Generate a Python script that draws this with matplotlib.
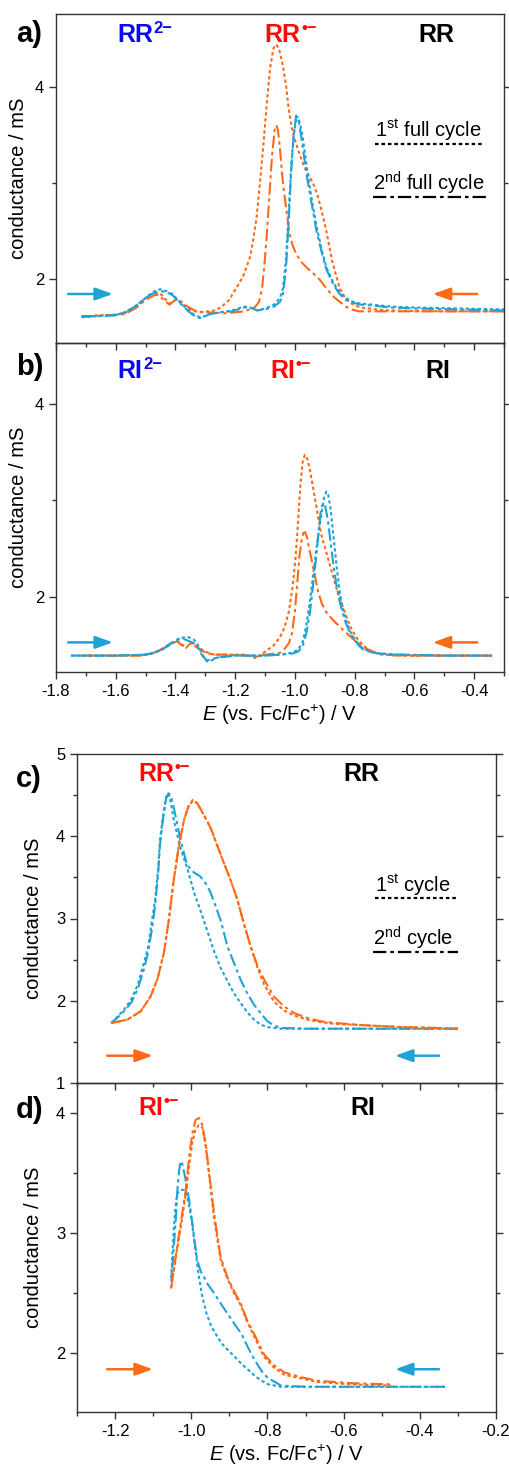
import matplotlib
matplotlib.use("Agg")
import matplotlib.pyplot as plt
from matplotlib.ticker import MultipleLocator

plt.rcParams['font.family'] = ['Liberation Sans', 'DejaVu Sans']
plt.rcParams['mathtext.fontset'] = 'custom'
plt.rcParams['mathtext.rm'] = 'Liberation Sans'
plt.rcParams['mathtext.it'] = 'Liberation Sans:italic'
plt.rcParams['mathtext.bf'] = 'Liberation Sans:bold'

CYAN = '#1fa3d5'
ORANGE = '#ff6a17'
BLUE = '#0a0af0'
RED = '#ff0a0a'

# ---- panel a (RR, full cycles) ----
a_or_dot_x = [-0.30, -0.50, -0.70, -0.78, -0.81, -0.83, -0.85, -0.875, -0.895, -0.91, -0.925, -0.94, -0.958,
              -0.973, -0.99, -1.007, -1.02, -1.03, -1.042, -1.052, -1.06, -1.066, -1.072, -1.083, -1.095, -1.105,
              -1.117, -1.128, -1.14, -1.15, -1.17, -1.187, -1.205, -1.22, -1.245, -1.265, -1.29, -1.32, -1.345,
              -1.365, -1.385, -1.398, -1.41, -1.42, -1.432, -1.445, -1.46, -1.48, -1.50, -1.52, -1.545, -1.57,
              -1.62, -1.66, -1.72]
a_or_dot_y = [1.66, 1.66, 1.67, 1.70, 1.74, 1.79, 1.90, 2.18, 2.50, 2.70, 2.88, 3.00, 3.10, 3.20, 3.35, 3.52,
              3.75, 4.02, 4.25, 4.38, 4.43, 4.44, 4.40, 4.20, 3.80, 3.42, 3.00, 2.65, 2.40, 2.23, 2.05, 1.95, 1.86,
              1.78, 1.71, 1.67, 1.66, 1.65, 1.67, 1.71, 1.76, 1.78, 1.76, 1.74, 1.78, 1.83, 1.85, 1.84, 1.80, 1.74,
              1.68, 1.64, 1.62, 1.62, 1.60]
a_or_dd_x = [-0.30, -0.50, -0.70, -0.786, -0.81, -0.83, -0.85, -0.87, -0.895, -0.917, -0.94, -0.962, -0.98,
             -0.996, -1.008, -1.018, -1.028, -1.04, -1.05, -1.057, -1.062, -1.068, -1.077, -1.086, -1.094, -1.102,
             -1.11, -1.12, -1.135, -1.17, -1.23, -1.30, -1.33, -1.36, -1.385, -1.40, -1.42, -1.44, -1.455, -1.47,
             -1.50, -1.53, -1.57, -1.62, -1.72]
a_or_dd_y = [1.66, 1.66, 1.66, 1.66, 1.68, 1.71, 1.76, 1.81, 1.90, 1.99, 2.06, 2.12, 2.18, 2.26, 2.35, 2.47,
             2.70, 2.99, 3.35, 3.55, 3.60, 3.55, 3.27, 2.85, 2.47, 2.15, 1.90, 1.76, 1.70, 1.66, 1.64, 1.65, 1.66,
             1.71, 1.77, 1.78, 1.73, 1.78, 1.83, 1.83, 1.78, 1.70, 1.63, 1.62, 1.60]
a_cy_x = [-1.715, -1.66, -1.60, -1.57, -1.54, -1.52, -1.50, -1.48, -1.465, -1.45, -1.43, -1.41, -1.398, -1.38,
          -1.36, -1.34, -1.32, -1.30, -1.287, -1.25, -1.21, -1.19, -1.17, -1.15, -1.127, -1.10, -1.07, -1.05,
          -1.04, -1.03, -1.02, -1.012, -1.004, -0.996, -0.99, -0.985, -0.975, -0.962, -0.945, -0.928, -0.91,
          -0.895, -0.87, -0.85, -0.83, -0.806, -0.78, -0.74, -0.68, -0.595, -0.45, -0.30]
a_cy_dot_y = [1.60, 1.61, 1.62, 1.65, 1.70, 1.75, 1.80, 1.85, 1.88, 1.89, 1.87, 1.84, 1.80, 1.74, 1.68, 1.63,
              1.60, 1.61, 1.63, 1.65, 1.67, 1.69, 1.71, 1.70, 1.67, 1.69, 1.73, 1.80, 1.90, 2.20, 2.75, 3.20,
              3.50, 3.65, 3.67, 3.64, 3.50, 3.20, 2.85, 2.55, 2.30, 2.12, 1.95, 1.86, 1.80, 1.76, 1.74, 1.73,
              1.71, 1.70, 1.69, 1.68]
a_cy_dd_y = [1.61, 1.61, 1.62, 1.65, 1.70, 1.75, 1.80, 1.84, 1.86, 1.87, 1.86, 1.83, 1.79, 1.73, 1.67, 1.62,
             1.59, 1.61, 1.63, 1.65, 1.66, 1.68, 1.70, 1.70, 1.67, 1.68, 1.71, 1.76, 1.84, 2.10, 2.65, 3.15,
             3.50, 3.70, 3.68, 3.60, 3.40, 3.10, 2.80, 2.50, 2.27, 2.10, 1.93, 1.84, 1.78, 1.75, 1.73, 1.72,
             1.70, 1.69, 1.68, 1.67]

# ---- panel b (RI, full cycles) ----
b_or_dot_x = [-0.34, -0.50, -0.65, -0.71, -0.74, -0.77, -0.79, -0.81, -0.825, -0.84, -0.858, -0.876, -0.893,
              -0.91, -0.922, -0.932, -0.942, -0.952, -0.96, -0.967, -0.974, -0.982, -0.99, -0.998, -1.008, -1.02,
              -1.035, -1.05, -1.07, -1.095, -1.115, -1.128, -1.145, -1.17, -1.22, -1.27, -1.30, -1.32, -1.335,
              -1.345, -1.355, -1.365, -1.378, -1.39, -1.405, -1.43, -1.455, -1.48, -1.52, -1.60, -1.72]
b_or_dot_y = [1.39, 1.39, 1.39, 1.40, 1.43, 1.49, 1.56, 1.66, 1.77, 1.90, 2.06, 2.25, 2.44, 2.62, 2.82, 3.00,
              3.18, 3.35, 3.44, 3.47, 3.40, 3.15, 2.75, 2.40, 2.10, 1.85, 1.68, 1.58, 1.50, 1.44, 1.40, 1.36,
              1.38, 1.40, 1.40, 1.40, 1.43, 1.47, 1.50, 1.52, 1.50, 1.47, 1.50, 1.54, 1.53, 1.49, 1.44, 1.41,
              1.39, 1.39, 1.39]
b_or_dd_x = [-0.34, -0.50, -0.65, -0.70, -0.73, -0.76, -0.79, -0.815, -0.84, -0.86, -0.876, -0.895, -0.91,
             -0.922, -0.932, -0.942, -0.952, -0.96, -0.966, -0.972, -0.978, -0.985, -0.992, -1.0, -1.01, -1.02,
             -1.035, -1.05, -1.07, -1.10, -1.13, -1.16, -1.22, -1.27, -1.30, -1.32, -1.335, -1.35, -1.365, -1.38,
             -1.395, -1.42, -1.45, -1.48, -1.52, -1.60, -1.72]
b_or_dd_y = [1.39, 1.39, 1.39, 1.40, 1.42, 1.46, 1.52, 1.59, 1.66, 1.72, 1.77, 1.84, 1.93, 2.05, 2.20, 2.35,
             2.50, 2.62, 2.67, 2.66, 2.58, 2.42, 2.15, 1.85, 1.62, 1.52, 1.46, 1.42, 1.41, 1.40, 1.38, 1.39,
             1.40, 1.40, 1.42, 1.46, 1.49, 1.51, 1.49, 1.50, 1.54, 1.50, 1.45, 1.41, 1.39, 1.39, 1.39]
b_cy_dot_x = [-1.75, -1.60, -1.50, -1.47, -1.44, -1.42, -1.40, -1.385, -1.37, -1.355, -1.34, -1.325, -1.31,
              -1.295, -1.28, -1.26, -1.23, -1.20, -1.15, -1.10, -1.05, -1.01, -0.99, -0.975, -0.962, -0.95,
              -0.94, -0.93, -0.92, -0.91, -0.903, -0.895, -0.888, -0.88, -0.87, -0.86, -0.85, -0.84, -0.83,
              -0.815, -0.80, -0.785, -0.77, -0.74, -0.71, -0.65, -0.50, -0.34]
b_cy_dot_y = [1.39, 1.39, 1.40, 1.42, 1.46, 1.50, 1.54, 1.57, 1.58, 1.58, 1.56, 1.50, 1.40, 1.33, 1.34, 1.37,
              1.38, 1.39, 1.39, 1.39, 1.40, 1.42, 1.45, 1.52, 1.70, 1.95, 2.20, 2.45, 2.68, 2.88, 3.02, 3.09,
              3.05, 2.90, 2.60, 2.30, 2.05, 1.88, 1.76, 1.64, 1.56, 1.50, 1.46, 1.42, 1.41, 1.40, 1.39, 1.39]
b_cy_dd_x = [-1.75, -1.60, -1.50, -1.47, -1.44, -1.42, -1.40, -1.385, -1.37, -1.355, -1.34, -1.325, -1.31,
             -1.295, -1.28, -1.26, -1.23, -1.20, -1.15, -1.10, -1.05, -1.01, -0.99, -0.975, -0.962, -0.95, -0.94,
             -0.93, -0.92, -0.913, -0.906, -0.898, -0.89, -0.88, -0.87, -0.86, -0.85, -0.84, -0.83, -0.815,
             -0.80, -0.785, -0.77, -0.74, -0.71, -0.65, -0.50, -0.34]
b_cy_dd_y = [1.39, 1.39, 1.40, 1.42, 1.46, 1.51, 1.55, 1.57, 1.56, 1.54, 1.52, 1.47, 1.39, 1.34, 1.35, 1.37,
             1.38, 1.39, 1.39, 1.39, 1.40, 1.41, 1.43, 1.48, 1.62, 1.83, 2.10, 2.38, 2.70, 2.90, 2.97, 2.93,
             2.80, 2.55, 2.30, 2.10, 1.95, 1.83, 1.73, 1.62, 1.55, 1.49, 1.45, 1.42, 1.41, 1.40, 1.39, 1.39]

# ---- panel c (RR, first reduction only) ----
c_cy_dot_x = [-0.30, -0.45, -0.60, -0.70, -0.765, -0.783, -0.80, -0.818, -0.835, -0.853, -0.87, -0.888, -0.905,
              -0.923, -0.94, -0.958, -0.976, -0.993, -1.011, -1.028, -1.046, -1.054, -1.06, -1.066, -1.074,
              -1.082, -1.087, -1.095, -1.104, -1.113, -1.122, -1.14, -1.157, -1.175, -1.195, -1.21]
c_cy_dot_y = [1.66, 1.66, 1.66, 1.66, 1.66, 1.67, 1.68, 1.71, 1.77, 1.86, 1.97, 2.09, 2.24, 2.40, 2.60, 2.85,
              3.10, 3.32, 3.62, 3.85, 4.20, 4.42, 4.52, 4.48, 4.25, 3.96, 3.60, 3.23, 2.95, 2.66, 2.50, 2.20,
              2.02, 1.90, 1.80, 1.73]
c_cy_dd_x = [-0.30, -0.45, -0.60, -0.70, -0.765, -0.783, -0.80, -0.818, -0.835, -0.853, -0.87, -0.888, -0.905,
             -0.923, -0.94, -0.949, -0.958, -0.976, -0.993, -1.011, -1.028, -1.046, -1.054, -1.06, -1.066, -1.074,
             -1.082, -1.087, -1.095, -1.104, -1.113, -1.122, -1.14, -1.157, -1.175, -1.195, -1.21]
c_cy_dd_y = [1.66, 1.66, 1.66, 1.66, 1.67, 1.70, 1.75, 1.85, 1.95, 2.09, 2.25, 2.46, 2.66, 2.98, 3.20, 3.31,
             3.40, 3.51, 3.56, 3.65, 3.95, 4.35, 4.50, 4.52, 4.46, 4.22, 3.90, 3.55, 3.15, 2.85, 2.60, 2.42,
             2.15, 1.98, 1.88, 1.79, 1.73]
c_or_x = [-1.21, -1.168, -1.133, -1.107, -1.089, -1.072, -1.059, -1.046, -1.033, -1.019, -1.006, -0.995, -0.984,
          -0.967, -0.949, -0.932, -0.914, -0.897, -0.879, -0.862, -0.844, -0.826, -0.809, -0.783, -0.756, -0.73,
          -0.695, -0.66, -0.625, -0.537, -0.449, -0.362, -0.30]
c_or_dot_y = [1.73, 1.77, 1.87, 2.05, 2.26, 2.58, 2.98, 3.47, 3.87, 4.20, 4.38, 4.43, 4.40, 4.26, 4.10, 3.89,
              3.67, 3.47, 3.23, 2.94, 2.66, 2.40, 2.20, 1.99, 1.88, 1.82, 1.77, 1.74, 1.72, 1.70, 1.68, 1.67,
              1.66]
c_or_dd_y = [1.73, 1.77, 1.87, 2.05, 2.26, 2.58, 2.98, 3.47, 3.87, 4.20, 4.38, 4.45, 4.40, 4.26, 4.10, 3.89,
             3.67, 3.47, 3.23, 2.94, 2.66, 2.42, 2.26, 2.05, 1.93, 1.85, 1.79, 1.75, 1.73, 1.70, 1.68, 1.67,
             1.66]

# ---- panel d (RI, first reduction only) ----
d_or_x = [-1.053, -1.037, -1.024, -1.015, -1.004, -0.997, -0.989, -0.98, -0.971, -0.962, -0.953, -0.94, -0.923,
          -0.905, -0.888, -0.87, -0.853, -0.835, -0.809, -0.783, -0.756, -0.712, -0.668, -0.58, -0.476]
d_or_dot_y = [2.54, 2.87, 3.12, 3.32, 3.60, 3.76, 3.86, 3.90, 3.88, 3.72, 3.48, 3.12, 2.78, 2.62, 2.50, 2.40,
              2.26, 2.14, 1.97, 1.88, 1.82, 1.79, 1.76, 1.74, 1.73]
d_or_dd_y = [2.54, 2.89, 3.16, 3.35, 3.68, 3.83, 3.94, 3.96, 3.90, 3.74, 3.50, 3.16, 2.80, 2.63, 2.52, 2.41,
             2.27, 2.16, 1.99, 1.90, 1.84, 1.80, 1.77, 1.75, 1.74]
d_cy_dd_x = [-0.334, -0.45, -0.60, -0.70, -0.765, -0.78, -0.798, -0.815, -0.833, -0.85, -0.868, -0.886, -0.905,
             -0.92, -0.94, -0.958, -0.966, -0.975, -0.984, -0.991, -0.997, -1.004, -1.01, -1.017, -1.024, -1.028,
             -1.032, -1.036, -1.04, -1.045, -1.05, -1.053]
d_cy_dd_y = [1.72, 1.72, 1.72, 1.72, 1.73, 1.76, 1.79, 1.85, 1.94, 2.04, 2.16, 2.24, 2.33, 2.40, 2.50, 2.58,
             2.63, 2.68, 2.77, 2.92, 3.08, 3.24, 3.36, 3.48, 3.58, 3.60, 3.52, 3.38, 3.15, 2.92, 2.70, 2.60]
d_cy_dot_x = [-0.334, -0.45, -0.60, -0.70, -0.765, -0.78, -0.798, -0.815, -0.833, -0.85, -0.868, -0.886,
              -0.905, -0.92, -0.934, -0.947, -0.96, -0.973, -0.982, -0.99, -0.998, -1.005, -1.014, -1.02,
              -1.028, -1.037, -1.042, -1.046, -1.05, -1.053]
d_cy_dot_y = [1.72, 1.72, 1.72, 1.72, 1.72, 1.73, 1.74, 1.77, 1.81, 1.86, 1.91, 1.97, 2.03, 2.08, 2.15, 2.22,
              2.33, 2.50, 2.68, 2.89, 3.08, 3.22, 3.34, 3.36, 3.36, 3.33, 3.20, 3.03, 2.80, 2.61]

DOT = (0, (1.6, 1.3))
DASHDOT = (0, (6, 1.8, 1.6, 1.8))
LW = 1.5

fig = plt.figure(figsize=(5.10, 14.66), dpi=100)
W, H = 510.0, 1466.0


def make_ax(left, right, top, bottom):
    ax = fig.add_axes([left / W, 1 - bottom / H, (right - left) / W, (bottom - top) / H])
    ax.set_facecolor('none')
    for s in ax.spines.values():
        s.set_linewidth(1.0)
        s.set_color('#333333')
    ax.tick_params(which='both', direction='out', right=True, top=False, labelsize=12,
                   color='#333333', width=1.0)
    ax.tick_params(which='major', length=5)
    ax.tick_params(which='minor', length=3)
    return ax


ax_a = make_ax(56, 504, 14, 343)
ax_b = make_ax(56, 504, 343, 672)
ax_c = make_ax(77, 496, 754, 1083)
ax_d = make_ax(77, 496, 1083, 1412)

ax_a.plot(a_or_dot_x, a_or_dot_y, color=ORANGE, lw=LW, ls=DOT)
ax_a.plot(a_or_dd_x, a_or_dd_y, color=ORANGE, lw=LW, ls=DASHDOT)
ax_a.plot(a_cy_x, a_cy_dot_y, color=CYAN, lw=LW, ls=DOT)
ax_a.plot(a_cy_x, a_cy_dd_y, color=CYAN, lw=LW, ls=DASHDOT)

ax_b.plot(b_or_dot_x, b_or_dot_y, color=ORANGE, lw=LW, ls=DOT)
ax_b.plot(b_or_dd_x, b_or_dd_y, color=ORANGE, lw=LW, ls=DASHDOT)
ax_b.plot(b_cy_dot_x, b_cy_dot_y, color=CYAN, lw=LW, ls=DOT)
ax_b.plot(b_cy_dd_x, b_cy_dd_y, color=CYAN, lw=LW, ls=DASHDOT)

ax_c.plot(c_cy_dot_x, c_cy_dot_y, color=CYAN, lw=LW, ls=DOT)
ax_c.plot(c_cy_dd_x, c_cy_dd_y, color=CYAN, lw=LW, ls=DASHDOT)
ax_c.plot(c_or_x, c_or_dot_y, color=ORANGE, lw=LW, ls=DOT)
ax_c.plot(c_or_x, c_or_dd_y, color=ORANGE, lw=LW, ls=DASHDOT)

ax_d.plot(d_cy_dot_x, d_cy_dot_y, color=CYAN, lw=LW, ls=DOT)
ax_d.plot(d_cy_dd_x, d_cy_dd_y, color=CYAN, lw=LW, ls=DASHDOT)
ax_d.plot(d_or_x, d_or_dot_y, color=ORANGE, lw=LW, ls=DOT)
ax_d.plot(d_or_x, d_or_dd_y, color=ORANGE, lw=LW, ls=DASHDOT)

# axes ranges / ticks
for ax in (ax_a, ax_b):
    ax.set_xlim(-1.8, -0.3)
    ax.xaxis.set_major_locator(MultipleLocator(0.2))
    ax.xaxis.set_minor_locator(MultipleLocator(0.1))
    ax.yaxis.set_major_locator(MultipleLocator(2))
    ax.yaxis.set_minor_locator(MultipleLocator(1))
ax_a.set_ylim(1.33, 4.76)
ax_b.set_ylim(1.22, 4.63)
ax_a.tick_params(labelbottom=False)

for ax in (ax_c, ax_d):
    ax.set_xlim(-1.3, -0.2)
    ax.xaxis.set_major_locator(MultipleLocator(0.2))
    ax.xaxis.set_minor_locator(MultipleLocator(0.1))
    ax.yaxis.set_major_locator(MultipleLocator(1))
    ax.yaxis.set_minor_locator(MultipleLocator(0.5))
ax_c.set_ylim(1, 5)
ax_d.set_ylim(1.51, 4.25)
ax_c.tick_params(labelbottom=False)

for ax in (ax_b, ax_d):
    ax.xaxis.set_major_formatter(plt.FuncFormatter(lambda v, p: f'{v:.1f}'))
    ax.set_xlabel(r'$E$ (vs. Fc/Fc$^{+}$) / V', fontsize=14.5, labelpad=3)

for ax in (ax_a, ax_b):
    ax.set_ylabel('conductance / mS', fontsize=14.5)
    ax.yaxis.set_label_coords(-0.063, 0.5)
for ax in (ax_c, ax_d):
    ax.set_ylabel('conductance / mS', fontsize=14.5)
    ax.yaxis.set_label_coords(-0.082, 0.5)


# species label: bold name plus a small bold superscript hung on its top-right corner
def species(ax, x, y, name, sup, col):
    t = ax.text(x, y, name, color=col, transform=ax.transAxes, fontsize=18, fontweight='bold',
                ha='left', va='baseline')
    if sup:
        ax.annotate(sup, xy=(1, 1), xycoords=t, xytext=(0.3, 1.5), textcoords='offset points',
                    color=col, fontsize=12, fontweight='bold', ha='left', va='top')


big = dict(fontsize=21, fontweight='bold', ha='left', va='baseline')
ax_a.text(-0.089, 0.915, 'a)', transform=ax_a.transAxes, **big)
species(ax_a, 0.136, 0.915, 'RR', '2\u2212', BLUE)
species(ax_a, 0.466, 0.915, 'RR', '\u2022\u2212', RED)
species(ax_a, 0.808, 0.915, 'RR', '', 'black')

ax_b.text(-0.089, 0.903, 'b)', transform=ax_b.transAxes, **big)
species(ax_b, 0.138, 0.894, 'RI', '2\u2212', BLUE)
species(ax_b, 0.478, 0.894, 'RI', '\u2022\u2212', RED)
species(ax_b, 0.824, 0.894, 'RI', '', 'black')

ax_c.text(-0.146, 0.90, 'c)', transform=ax_c.transAxes, **big)
species(ax_c, 0.146, 0.918, 'RR', '\u2022\u2212', RED)
species(ax_c, 0.635, 0.918, 'RR', '', 'black')

ax_d.text(-0.146, 0.894, 'd)', transform=ax_d.transAxes, **big)
species(ax_d, 0.146, 0.903, 'RI', '\u2022\u2212', RED)
species(ax_d, 0.652, 0.903, 'RI', '', 'black')


# cycle legends: text with a line sample underneath
def cycle_key(ax, x0, x1, ty, ly, txt, ls):
    ax.text(x0, ty, txt, transform=ax.transAxes, fontsize=14.5, ha='left', va='baseline')
    ax.plot([x0, x1], [ly, ly], transform=ax.transAxes, color='black', lw=1.6, ls=ls)


cycle_key(ax_a, 0.712, 0.951, 0.626, 0.606, r'1$^{\mathrm{st}}$ full cycle', DOT)
cycle_key(ax_a, 0.708, 0.964, 0.465, 0.444, r'2$^{\mathrm{nd}}$ full cycle', DASHDOT)
cycle_key(ax_c, 0.711, 0.907, 0.580, 0.563, r'1$^{\mathrm{st}}$ cycle', DOT)
cycle_key(ax_c, 0.706, 0.909, 0.419, 0.398, r'2$^{\mathrm{nd}}$ cycle', DASHDOT)


# scan direction arrows
def scan_arrow(ax, xs, xe, y, col):
    ax.annotate('', xy=(xe, y), xytext=(xs, y), xycoords='axes fraction',
                arrowprops=dict(arrowstyle='-|>,head_length=0.7,head_width=0.25', color=col, lw=1.8,
                                shrinkA=0, shrinkB=0, mutation_scale=15))


scan_arrow(ax_a, 0.027, 0.127, 0.149, CYAN)
scan_arrow(ax_a, 0.940, 0.841, 0.149, ORANGE)
scan_arrow(ax_b, 0.027, 0.127, 0.090, CYAN)
scan_arrow(ax_b, 0.940, 0.841, 0.090, ORANGE)
scan_arrow(ax_c, 0.072, 0.181, 0.083, ORANGE)
scan_arrow(ax_c, 0.864, 0.759, 0.083, CYAN)
scan_arrow(ax_d, 0.072, 0.181, 0.130, ORANGE)
scan_arrow(ax_d, 0.864, 0.759, 0.130, CYAN)

fig.savefig('out.png', dpi=100, facecolor='white')
